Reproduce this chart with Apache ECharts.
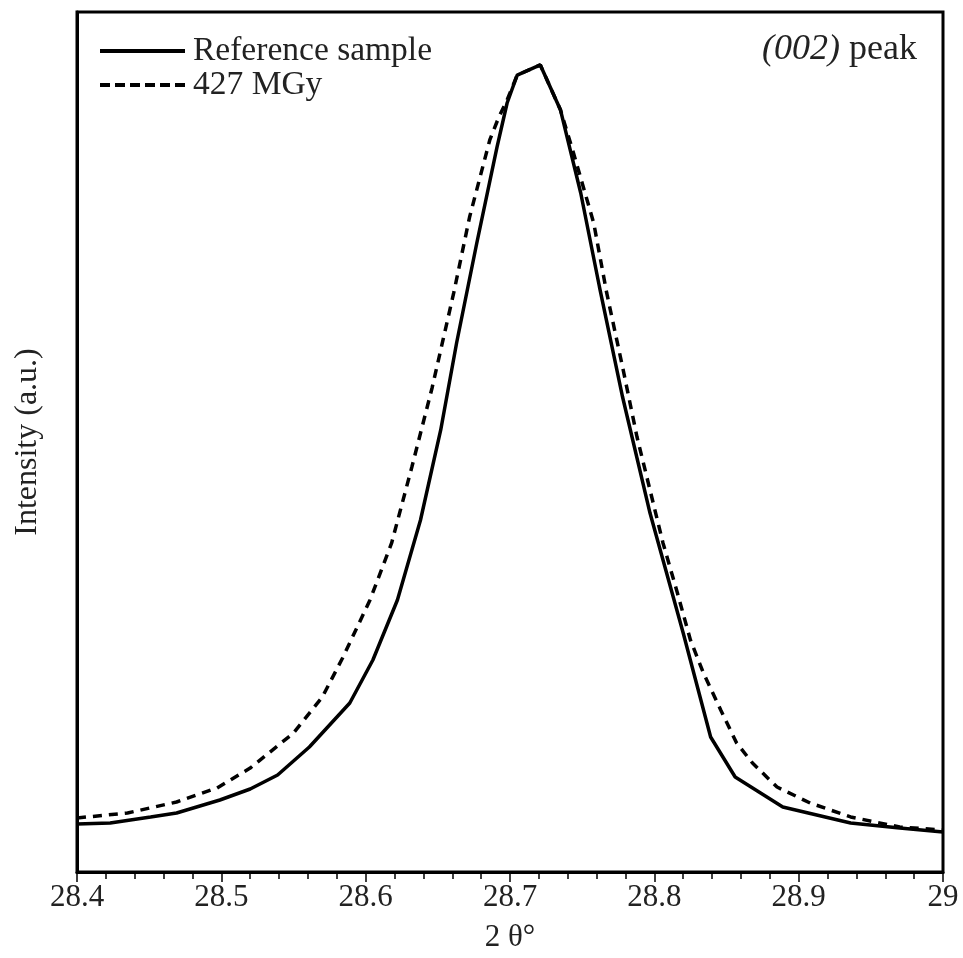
<!DOCTYPE html>
<html>
<head>
<meta charset="utf-8">
<script src="https://cdn.jsdelivr.net/npm/echarts@6/dist/echarts.min.js"></script>
<style>html,body{margin:0;padding:0;background:#fff}#c{width:963px;height:958px}</style>
</head>
<body>
<div id="c"></div>
<script>
// 2θ (degrees) and intensity (a.u.)
const refX = [28.400, 28.423, 28.451, 28.469, 28.499, 28.520, 28.539, 28.561, 28.589, 28.605, 28.622, 28.638, 28.652, 28.663, 28.677, 28.691, 28.698, 28.702, 28.705, 28.721, 28.735, 28.749, 28.762, 28.778, 28.797, 28.820, 28.839, 28.856, 28.889, 28.936, 28.970, 29.000];
const refY = [5.58, 5.70, 6.40, 6.86, 8.37, 9.65, 11.28, 14.53, 19.65, 24.65, 31.63, 40.93, 51.40, 61.51, 73.14, 84.30, 89.42, 91.28, 92.67, 93.84, 88.60, 78.95, 68.02, 55.23, 41.74, 27.79, 15.70, 11.05, 7.56, 5.70, 5.12, 4.65];

const irrX = [28.400, 28.435, 28.469, 28.497, 28.520, 28.550, 28.570, 28.584, 28.603, 28.618, 28.632, 28.646, 28.661, 28.672, 28.686, 28.692, 28.698, 28.705, 28.721, 28.735, 28.744, 28.758, 28.767, 28.778, 28.788, 28.797, 28.806, 28.816, 28.825, 28.834, 28.846, 28.857, 28.868, 28.885, 28.908, 28.936, 28.970, 29.000];
const irrY = [6.28, 6.86, 8.14, 9.77, 12.09, 16.16, 20.35, 24.88, 31.63, 38.26, 47.09, 56.28, 67.33, 76.16, 85.12, 87.67, 89.77, 92.67, 93.84, 88.60, 83.60, 75.47, 67.33, 58.72, 50.58, 44.42, 38.26, 32.44, 26.98, 23.14, 18.84, 15.00, 12.67, 9.88, 8.02, 6.40, 5.23, 4.88];

const seriesNames = ['Reference sample', '427 MGy'];
const xTickLabels = ['28.4', '28.5', '28.6', '28.7', '28.8', '28.9', '29'];

const FONT = '"Liberation Serif", "DejaVu Serif", serif';
const chart = echarts.init(document.getElementById('c'), null, {renderer: 'canvas'});
const zip = (xs, ys) => xs.map((x, i) => [x, ys[i]]);

const solidIcon = 'path://M0,0h85v4h-85z';
const dashIcon = 'path://M0,0h10v4h-10zM15,0h10v4h-10zM30,0h10v4h-10zM45,0h10v4h-10zM60,0h10v4h-10zM75,0h10v4h-10z';

chart.setOption({
  animation: false,
  backgroundColor: '#fff',
  grid: {left: 77, right: 20, top: 12, bottom: 86, show: true, borderColor: '#000', borderWidth: 3, backgroundColor: 'transparent'},
  legend: {
    orient: 'vertical', left: 100, top: 34, itemWidth: 85, itemHeight: 4, itemGap: 0, padding: 0,
    symbolKeepAspect: false,
    itemStyle: {color: '#000', borderWidth: 0},
    textStyle: {fontFamily: FONT, fontSize: 33.5, color: '#222', lineHeight: 31, padding: [0, 0, 0, 3]},
    data: [{name: seriesNames[0], icon: solidIcon}, {name: seriesNames[1], icon: dashIcon}]
  },
  xAxis: {
    type: 'value', min: 28.4, max: 29, interval: 0.1,
    name: '2 θ°', nameLocation: 'middle', nameGap: 50,
    nameTextStyle: {fontFamily: FONT, fontSize: 31, color: '#222'},
    axisLine: {show: true, lineStyle: {color: '#000', width: 3}},
    axisTick: {show: true, length: 10, lineStyle: {color: '#000', width: 1.5}},
    minorTick: {show: true, splitNumber: 5, length: 7, lineStyle: {color: '#000', width: 1.5}},
    axisLabel: {fontFamily: FONT, fontSize: 31, color: '#222', margin: 10,
      formatter: v => xTickLabels[Math.round((v - 28.4) * 10)] || ''},
    splitLine: {show: false}
  },
  yAxis: {
    type: 'value', min: 0, max: 100,
    name: 'Intensity (a.u.)', nameLocation: 'middle', nameGap: 33, nameRotate: 90,
    nameTextStyle: {fontFamily: FONT, fontSize: 32, color: '#222'},
    axisLine: {show: true, lineStyle: {color: '#000', width: 3}},
    axisTick: {show: false}, axisLabel: {show: false}, splitLine: {show: false}
  },
  graphic: [{
    type: 'text', right: 46, top: 32,
    style: {
      text: '{i|(002)} peak',
      rich: {i: {fontFamily: FONT, fontSize: 36, fontStyle: 'italic', fill: '#222'}},
      font: '36px "Liberation Serif", serif', fill: '#222'
    }
  }],
  series: [
    {name: seriesNames[0], type: 'line', data: zip(refX, refY), symbol: 'none', smooth: false,
     lineStyle: {color: '#000', width: 3.5, type: 'solid'}, itemStyle: {color: '#000'}, z: 3},
    {name: seriesNames[1], type: 'line', data: zip(irrX, irrY), symbol: 'none', smooth: false,
     lineStyle: {color: '#000', width: 3.5, type: [9, 7]}, itemStyle: {color: '#000'}, z: 2}
  ]
});
</script>
</body>
</html>
